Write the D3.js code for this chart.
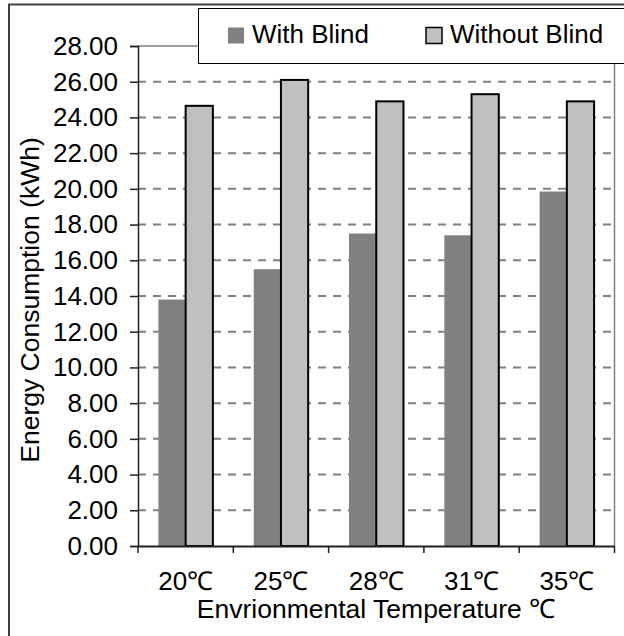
<!DOCTYPE html>
<html><head><meta charset="utf-8">
<script src="https://cdn.jsdelivr.net/npm/d3@7"></script>
<style>body{margin:0;background:#fff}svg{display:block}text{font-family:"Liberation Sans",Arial,sans-serif;fill:#000}</style>
</head><body>
<script>
const categories = ["20℃","25℃","28℃","31℃","35℃"];
const seriesNames = ["With Blind","Without Blind"];
const withBlind = [13.8, 15.5, 17.5, 17.4, 19.85];
const withoutBlind = [24.65, 26.1, 24.9, 25.3, 24.9];
const yTicks = [0,2,4,6,8,10,12,14,16,18,20,22,24,26,28];
const yTitle = "Energy Consumption (kWh)";
const xTitle = "Envrionmental Temperature ℃";

const W = 624, H = 636;
const FF = "'Liberation Sans', Arial, sans-serif";
const m = {left:138, right:614.5, top:46, bottom:546};
const svg = d3.select("body").append("svg").attr("width",W).attr("height",H);
svg.append("rect").attr("width",W).attr("height",H).attr("fill","#fff");
svg.append("rect").attr("x",9).attr("y",4.5).attr("width",W+20).attr("height",H+20)
  .attr("fill","none").attr("stroke","#404040").attr("stroke-width",2);

const x = d3.scaleBand().domain(categories).range([m.left,m.right]).paddingInner(0).paddingOuter(0);
const y = d3.scaleLinear().domain([0,28]).range([m.bottom,m.top]);
const bw = x.bandwidth()/3.5;
const data = categories.map((c,i)=>({c, a:withBlind[i], b:withoutBlind[i]}));

svg.append("g").selectAll("line").data(yTicks.filter(t=>t>0&&t<28)).join("line")
  .attr("x1",m.left).attr("x2",m.right).attr("y1",d=>y(d)).attr("y2",d=>y(d))
  .attr("stroke","#808080").attr("stroke-width",2).attr("stroke-dasharray","8,7");
svg.append("path").attr("d",`M${m.left},${y(28)}H${m.right}V${m.bottom}`)
  .attr("fill","none").attr("stroke","#808080").attr("stroke-width",1.5);

const g = svg.append("g");
g.selectAll("rect.a").data(data).join("rect").attr("class","a")
  .attr("x",d=>x(d.c)+x.bandwidth()/2-bw).attr("width",bw)
  .attr("y",d=>y(d.a)).attr("height",d=>y(0)-y(d.a)).attr("fill","#808080");
g.selectAll("rect.b").data(data).join("rect").attr("class","b")
  .attr("x",d=>x(d.c)+x.bandwidth()/2).attr("width",bw)
  .attr("y",d=>y(d.b)).attr("height",d=>y(0)-y(d.b))
  .attr("fill","#C0C0C0").attr("stroke","#000").attr("stroke-width",2);

const ya = svg.append("g").attr("transform",`translate(${m.left},0)`)
  .call(d3.axisLeft(y).tickValues(yTicks).tickFormat(d3.format(".2f")).tickSize(8).tickPadding(12));
ya.select(".domain").attr("stroke","#202020").attr("stroke-width",1.5);
ya.selectAll(".tick line").attr("stroke","#202020").attr("stroke-width",1.5);
ya.selectAll("text").attr("font-size",26).attr("font-family",FF).attr("fill","#000");

const xa = svg.append("g").attr("transform",`translate(0,${m.bottom})`)
  .call(d3.axisBottom(x).tickSize(0).tickPadding(26));
xa.select(".domain").attr("stroke","#202020").attr("stroke-width",2);
xa.selectAll("text").attr("font-size",26).attr("font-family",FF).attr("fill","#000");
svg.append("g").selectAll("line").data(categories.concat(["end"])).join("line")
  .attr("x1",(d,i)=>m.left+i*x.step()).attr("x2",(d,i)=>m.left+i*x.step())
  .attr("y1",m.bottom).attr("y2",m.bottom+7).attr("stroke","#202020").attr("stroke-width",1.5);

svg.append("text").attr("transform",`translate(39,${(m.top+m.bottom)/2+4}) rotate(-90)`)
  .attr("text-anchor","middle").attr("font-size",26.5).attr("font-family",FF).text(yTitle);
svg.append("text").attr("x",376).attr("y",618).attr("text-anchor","middle").attr("font-size",26.5).attr("font-family",FF).text(xTitle);

const lg = svg.append("g");
lg.append("rect").attr("x",198.5).attr("y",8.5).attr("width",460).attr("height",55)
  .attr("fill","#fff").attr("stroke","#000").attr("stroke-width",1);
const lx = [228, 426];
const lc = ["#808080","#C0C0C0"];
seriesNames.forEach((s,i)=>{
  lg.append("rect").attr("x",lx[i]).attr("y",27.5).attr("width",16).attr("height",16)
    .attr("fill",lc[i]).attr("stroke",i? "#000":"none").attr("stroke-width",1.5);
  lg.append("text").attr("x",lx[i]+24).attr("y",43).attr("font-size",26).attr("font-family",FF).text(s);
});
</script>
</body></html>
